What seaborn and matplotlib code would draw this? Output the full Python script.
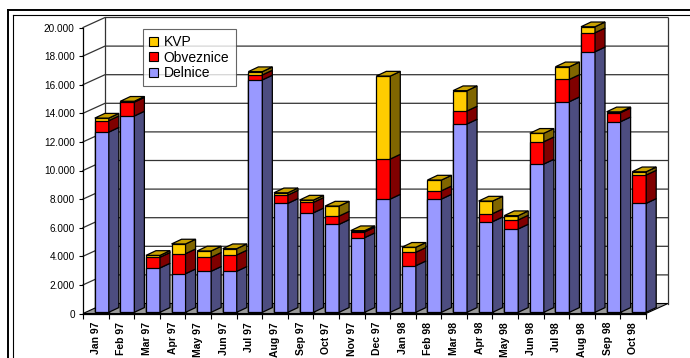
import numpy as np
import pandas as pd
import matplotlib
matplotlib.use("Agg")
import matplotlib.pyplot as plt
from matplotlib import transforms
from matplotlib.patches import Polygon, Patch
from matplotlib.lines import Line2D
import seaborn as sns

# ---- data -------------------------------------------------------------
months = ["Jan 97", "Feb 97", "Mar 97", "Apr 97", "May 97", "Jun 97",
          "Jul 97", "Aug 97", "Sep 97", "Oct 97", "Nov 97", "Dec 97",
          "Jan 98", "Feb 98", "Mar 98", "Apr 98", "May 98", "Jun 98",
          "Jul 98", "Aug 98", "Sep 98", "Oct 98"]
delnice = [12600, 13730, 3100, 2700, 2870, 2870, 16250, 7620, 6960, 6150, 5220,
           7920, 3260, 7920, 13170, 6340, 5830, 10370, 14730, 18220, 13330, 7620]
obveznice = [800, 970, 750, 1400, 980, 1140, 350, 580, 730, 580, 400,
             2800, 940, 580, 910, 560, 630, 1560, 1560, 1330, 630, 1980]
kvp = [180, 60, 130, 680, 440, 440, 230, 160, 160, 700, 90,
       5800, 350, 750, 1420, 880, 300, 590, 880, 420, 60, 230]
series_names = ["KVP", "Obveznice", "Delnice"]
yticks = list(range(0, 20001, 2000))

front_col = {"KVP": "#FFCC00", "Obveznice": "#FF0000", "Delnice": "#9999FF"}
side_col = {"KVP": "#806600", "Obveznice": "#800000", "Delnice": "#4D4D80"}
top_col = "#C9A200"

plt.rcParams["font.family"] = ["Liberation Sans", "DejaVu Sans"]

W, H, DPI = 690, 358, 100
fig = plt.figure(figsize=(W / DPI, H / DPI), dpi=DPI)
fig.patch.set_facecolor("white")

# front plane of the 3-D box (pixels)
left_px, right_px, top_px, bottom_px = 83, 646, 27.5, 313.5
ax = fig.add_axes([left_px / W, 1 - bottom_px / H,
                   (right_px - left_px) / W, (bottom_px - top_px) / H])
ax.patch.set_visible(False)

n = len(months)
xmin, xmax = -0.5, n - 0.5
ymin, ymax = 0, 20000
px_x = (right_px - left_px) / (xmax - xmin)
px_y = (bottom_px - top_px) / (ymax - ymin)


def ddx(px):
    return px / px_x


def ddy(px):
    return px / px_y


wall_dx, wall_dy = ddx(22), ddy(10)
bar_dx, bar_dy = ddx(10), ddy(4.7)
bar_w = 14 / px_x
bar_tr = ax.transData + transforms.ScaledTranslation(6 / DPI, 1.2 / DPI, fig.dpi_scale_trans)

# ---- floor, walls and gridlines ---------------------------------------
grid_c = "#333333"
ax.add_patch(Polygon([(xmin, 0), (xmax, 0), (xmax + wall_dx, wall_dy), (xmin + wall_dx, wall_dy)],
                     closed=True, facecolor="#999999", edgecolor="black", lw=0.8,
                     clip_on=False, zorder=0.5))
for v in yticks[1:]:
    ax.plot([xmin, xmin + wall_dx, xmax + wall_dx], [v, v + wall_dy, v + wall_dy],
            color=grid_c, lw=0.9, clip_on=False, zorder=0.6)
for xe in (xmin + wall_dx, xmax + wall_dx):
    ax.plot([xe, xe], [wall_dy, ymax + wall_dy], color=grid_c, lw=0.9, clip_on=False, zorder=0.6)

# ---- stacked columns --------------------------------------------------
df = pd.DataFrame({"month": months, "Delnice": delnice, "Obveznice": obveznice, "KVP": kvp})
df["lower2"] = df["Delnice"] + df["Obveznice"]
df["total"] = df["lower2"] + df["KVP"]

n_before = len(ax.patches)
for col, name in [("total", "KVP"), ("lower2", "Obveznice"), ("Delnice", "Delnice")]:
    sns.barplot(data=df, x="month", y=col, order=months, color=front_col[name],
                saturation=1, width=bar_w, edgecolor="black", linewidth=0.9,
                errorbar=None, ax=ax, zorder=2)
for p in ax.patches[n_before:]:
    p.set_transform(bar_tr)
    p.set_clip_on(False)

# side and top faces
for i in range(n):
    xl, xr = i - bar_w / 2, i + bar_w / 2
    lv = [0, delnice[i], delnice[i] + obveznice[i], delnice[i] + obveznice[i] + kvp[i]]
    for (y0, y1), name in zip(zip(lv[:-1], lv[1:]), ["Delnice", "Obveznice", "KVP"]):
        ax.add_patch(Polygon([(xr, y0), (xr + bar_dx, y0 + bar_dy), (xr + bar_dx, y1 + bar_dy), (xr, y1)],
                             closed=True, facecolor=side_col[name], edgecolor="black", lw=0.9,
                             transform=bar_tr, clip_on=False, zorder=2))
    t = lv[-1]
    ax.add_patch(Polygon([(xl, t), (xr, t), (xr + bar_dx, t + bar_dy), (xl + bar_dx, t + bar_dy)],
                         closed=True, facecolor=top_col, edgecolor="black", lw=0.9,
                         transform=bar_tr, clip_on=False, zorder=2))

# ---- axes -------------------------------------------------------------
ax.set_xlim(xmin, xmax)
ax.set_ylim(ymin, ymax)
ax.set_xlabel("")
ax.set_ylabel("")
for s in ("top", "right"):
    ax.spines[s].set_visible(False)
for s in ("left", "bottom"):
    ax.spines[s].set_color("black")
    ax.spines[s].set_linewidth(0.9)

ax.set_yticks(yticks)
ax.set_yticklabels([f"{v:,}".replace(",", ".") for v in yticks])
ax.tick_params(axis="y", length=2.9, width=0.8, pad=3, labelsize=7.2, colors="black")

ax.set_xticks(range(n))
ax.set_xticklabels(months, rotation=90, fontweight="bold", fontsize=7.5)
ax.tick_params(axis="x", which="major", length=0, pad=6)
ax.set_xticks(np.arange(n + 1) - 0.5, minor=True)
ax.tick_params(axis="x", which="minor", length=3.6, width=0.8, color="black")

# ---- legend -----------------------------------------------------------
handles = [Patch(facecolor=front_col[s], edgecolor="black", lw=0.8) for s in series_names]
leg = fig.legend(handles, series_names, loc="upper left",
                 bbox_to_anchor=(143 / W, 1 - 29 / H), frameon=True, fancybox=False,
                 fontsize=10, handlelength=0.65, handleheight=0.65, handletextpad=0.4,
                 labelspacing=0.1, borderpad=0.45, borderaxespad=0)
leg.get_frame().set_edgecolor("#404040")
leg.get_frame().set_linewidth(0.8)

# ---- chart border -----------------------------------------------------
def fig_line(xs, ys, lw):
    fig.add_artist(Line2D([x / W for x in xs], [1 - y / H for y in ys],
                          transform=fig.transFigure, color="black", lw=lw))


fig_line([8, W], [9.5, 9.5], 1.4)
fig_line([8, 8], [9.5, H], 1.4)
fig_line([13, W], [15, 15], 0.8)
fig_line([13, 13], [15, H], 0.8)

fig.savefig("out.png", dpi=DPI)
